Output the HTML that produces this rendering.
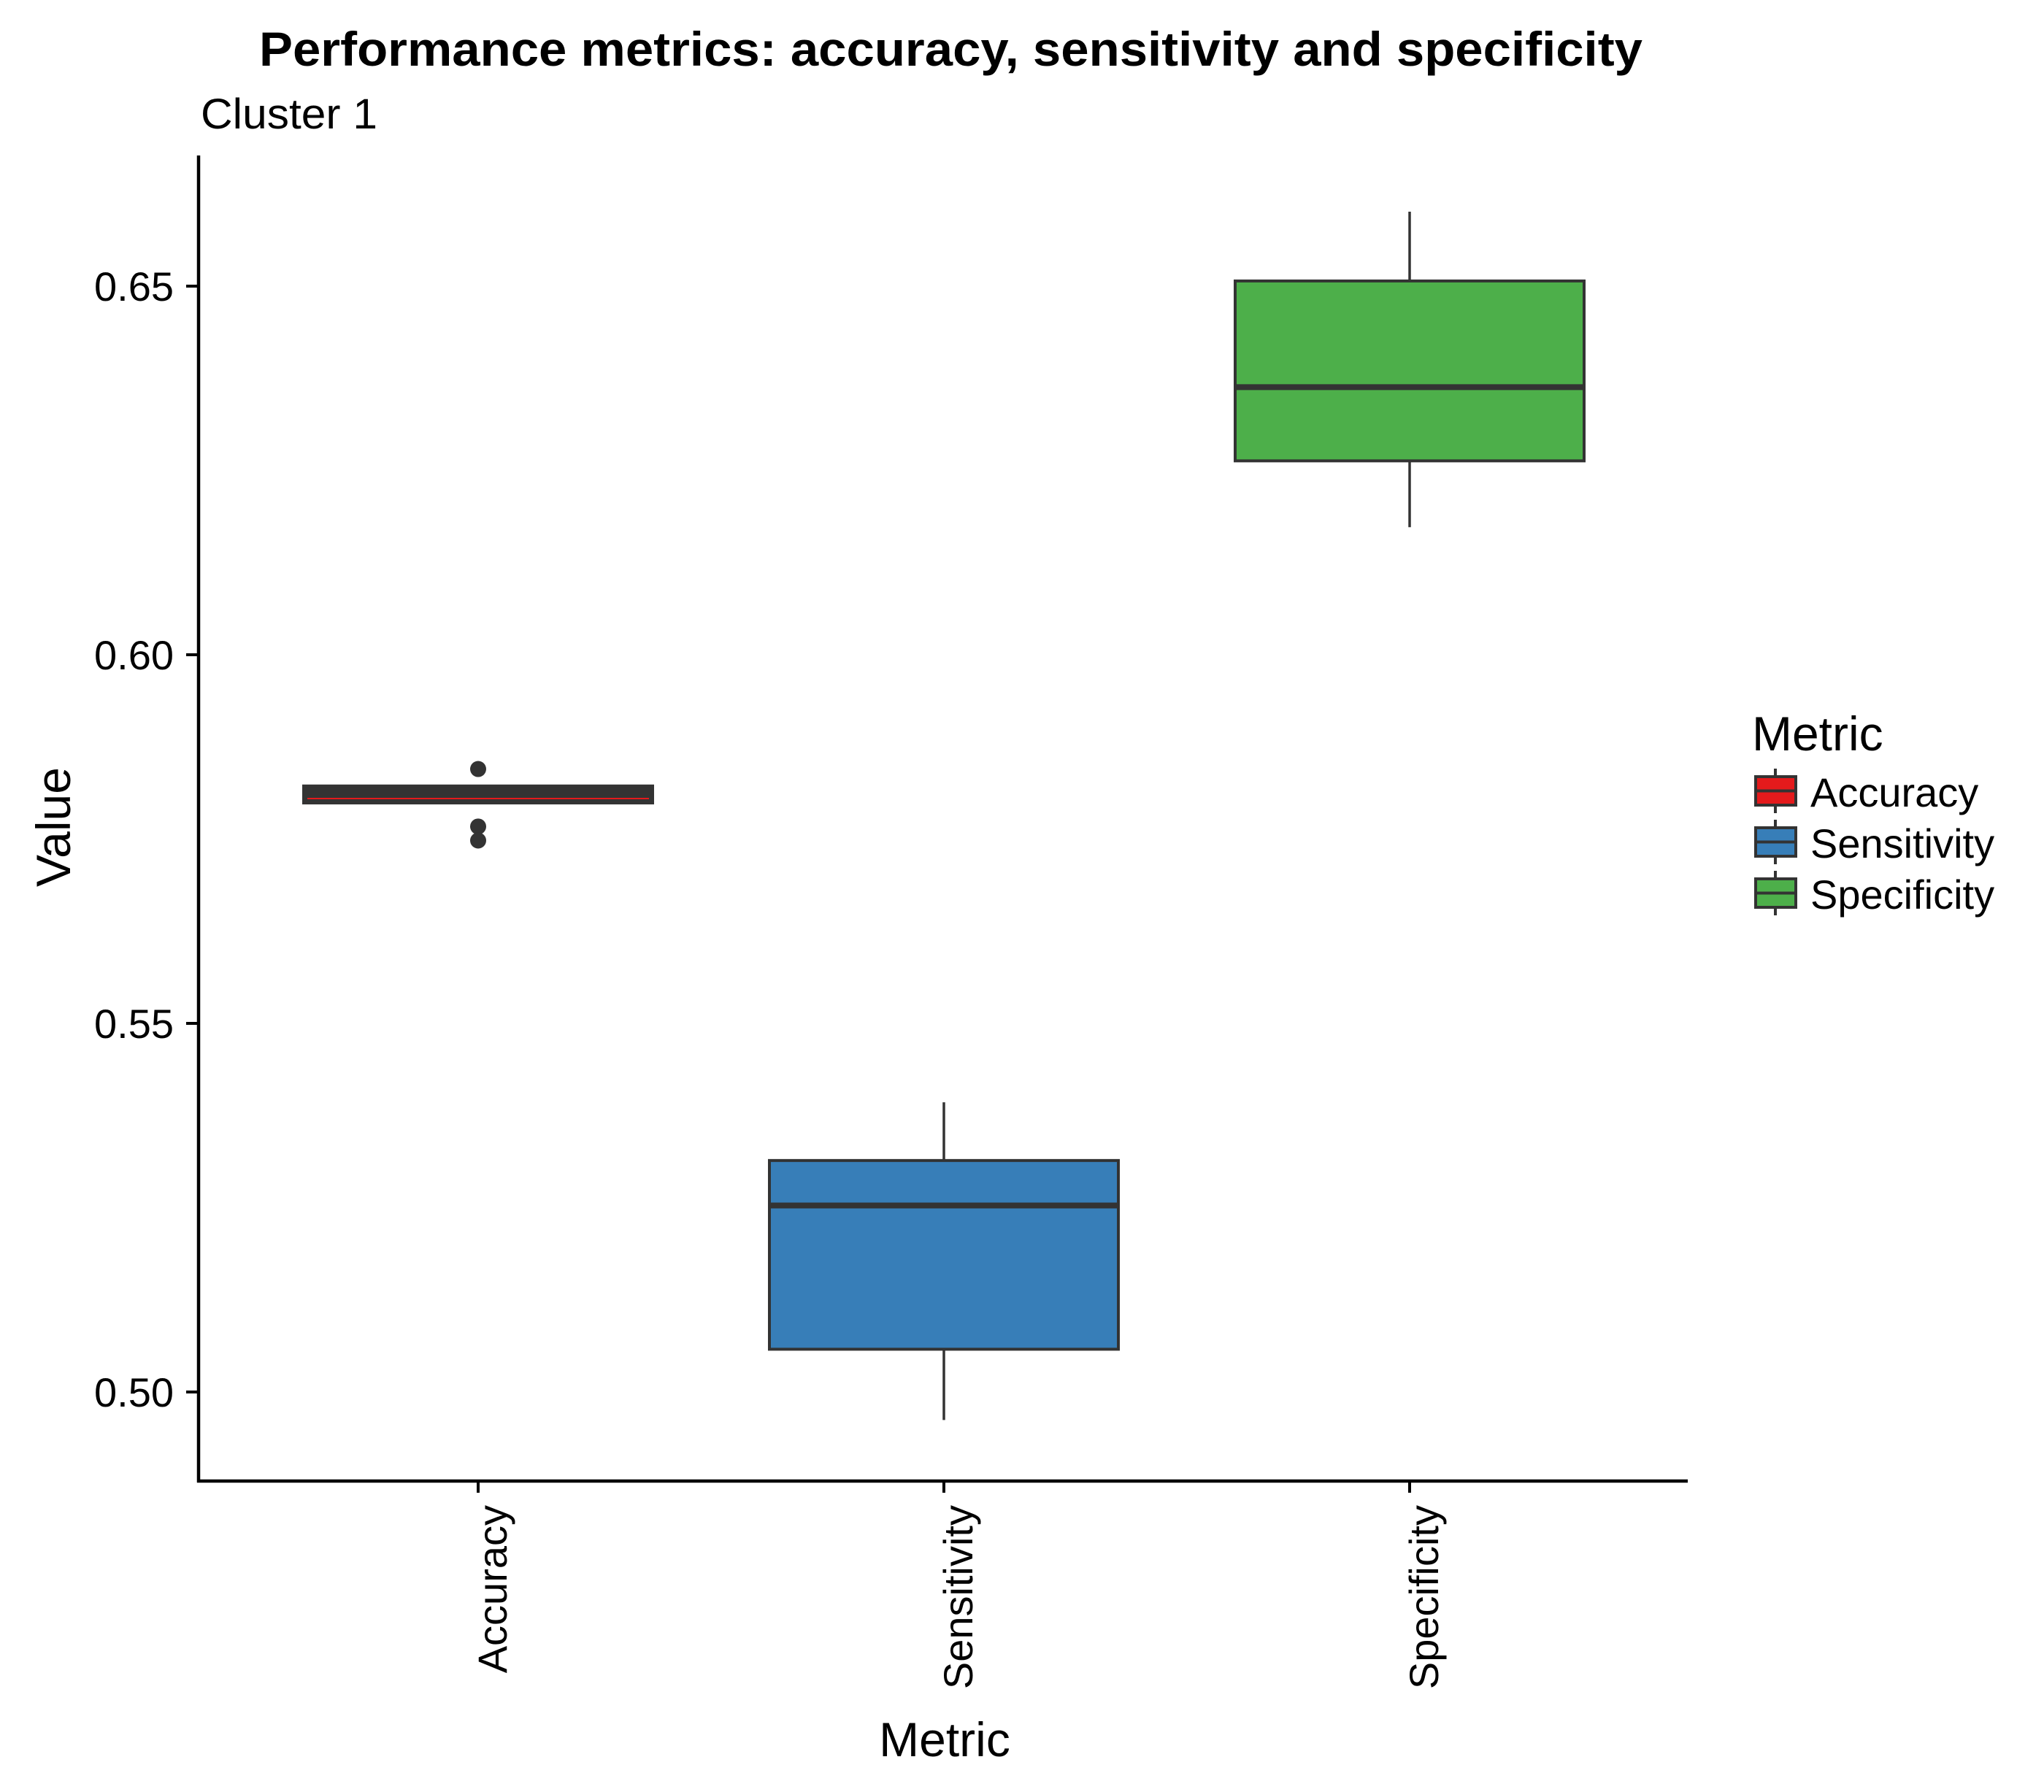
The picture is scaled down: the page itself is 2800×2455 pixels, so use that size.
<!DOCTYPE html>
<html><head><meta charset="utf-8"><style>
html,body{margin:0;padding:0;background:#fff}
svg text{font-family:"Liberation Sans",sans-serif;fill:#000}
</style></head><body>
<svg id="chart" width="2800" height="2450" viewBox="0 0 2800 2450" xmlns="http://www.w3.org/2000/svg">
<text x="355" y="90" font-size="66" font-weight="bold" textLength="1895" lengthAdjust="spacingAndGlyphs">Performance metrics: accuracy, sensitivity and specificity</text>
<text x="275" y="176" font-size="58" textLength="242" lengthAdjust="spacingAndGlyphs">Cluster 1</text>
<g id="plot"></g>
<text x="1294" y="2406" font-size="66" text-anchor="middle">Metric</text>
<text transform="translate(96,1133) rotate(-90)" font-size="66" text-anchor="middle">Value</text>
<g id="legend"></g>
</svg>
<script>
const categories = ["Accuracy","Sensitivity","Specificity"];
const colors = ["#e41a1c","#377eb8","#4daf4a"];
const whiskerLow = [0.5805, 0.4962, 0.6173];
const q1 = [0.5799, 0.5058, 0.6263];
const median = [0.5805, 0.5253, 0.6363];
const q3 = [0.5822, 0.5314, 0.6507];
const whiskerHigh = [0.5822, 0.5393, 0.6601];
const outliers = [[0.5845, 0.5767, 0.5748], [], []];
const yTicks = [0.50, 0.55, 0.60, 0.65];
const yTickLabels = ["0.50","0.55","0.60","0.65"];

const NS = "http://www.w3.org/2000/svg";
const X0 = 272, X1 = 2312, YTOP = 213, YBOT = 2029;
function yScale(v){ return 1907 - (v - 0.5) * 10100; }
function xScale(i){ return 655 + i * 638; }
const BW = 478;
function mk(tag, attrs, parent){
  const e = document.createElementNS(NS, tag);
  for (const k in attrs) e.setAttribute(k, attrs[k]);
  parent.appendChild(e); return e;
}
const plot = document.getElementById('plot');
const legend = document.getElementById('legend');

categories.forEach((c, i) => {
  const cx = xScale(i);
  const g = mk('g', {}, plot);
  
  
  const w1 = mk('line', {x1:cx, x2:cx, y1:yScale(whiskerHigh[i]), y2:yScale(q3[i]), stroke:'#333', 'stroke-width':3.5}, g);
  
  
  const w2 = mk('line', {x1:cx, x2:cx, y1:yScale(q1[i]), y2:yScale(whiskerLow[i]), stroke:'#333', 'stroke-width':3.5}, g);
  
  
  const h = yScale(q1[i]) - yScale(q3[i]);
  const thin = h < 30;
  const r = mk('rect', {x:cx-BW/2, y:yScale(q3[i]), width:BW, height:h, fill: thin ? '#333' : colors[i], stroke:'#333', 'stroke-width':4}, g);
  
  
  const m = mk('line', {x1:cx-BW/2, x2:cx+BW/2, y1:yScale(median[i]), y2:yScale(median[i]), stroke:'#333', 'stroke-width':8}, g);
  
  
  if (thin) {
    const rl = mk('line', {x1:cx-BW/2+5, x2:cx+BW/2-5, y1:yScale(median[i]), y2:yScale(median[i]), stroke:colors[i], 'stroke-width':2}, g);
    
    
  }
  outliers[i].forEach(v => {
    const p = mk('circle', {cx:cx, cy:yScale(v), r:11, fill:'#333'}, g);
    
    
  });
  const t = mk('line', {x1:cx, x2:cx, y1:YBOT, y2:YBOT+16, stroke:'#000', 'stroke-width':4}, plot);
  
  
  const tl = mk('text', {transform:`translate(${cx+39},2062) rotate(-90)`, 'font-size':56, 'text-anchor':'end'}, plot);
  tl.textContent = c;
  
  
  const ly = 1064 + i * 70;
  const lg = mk('g', {}, legend);
  
  
  mk('line', {x1:2432, x2:2432, y1:ly-11, y2:ly+50, stroke:'#333', 'stroke-width':4}, lg);
  mk('rect', {x:2405, y:ly, width:55, height:39, fill:colors[i], stroke:'#333', 'stroke-width':4}, lg);
  mk('line', {x1:2405, x2:2460, y1:ly+19.5, y2:ly+19.5, stroke:'#333', 'stroke-width':4}, lg);
  const lt = mk('text', {x:2480, y:ly+41, 'font-size':56}, lg);
  lt.textContent = c;
});

yTicks.forEach((v, i) => {
  const y = yScale(v);
  const t = mk('line', {x1:X0-17, x2:X0, y1:y, y2:y, stroke:'#000', 'stroke-width':4}, plot);
  
  
  const l = mk('text', {x:238, y:y+20, 'font-size':56, 'text-anchor':'end'}, plot);
  l.textContent = yTickLabels[i];
  
  
});
const ya = mk('line', {x1:X0, x2:X0, y1:YTOP, y2:YBOT+2, stroke:'#000', 'stroke-width':4.5}, plot);


const xa = mk('line', {x1:X0-2, x2:X1, y1:YBOT, y2:YBOT, stroke:'#000', 'stroke-width':4.5}, plot);


const lt = mk('text', {x:2400, y:1028, 'font-size':66}, legend);
lt.textContent = 'Metric';


</script>
</body></html>
